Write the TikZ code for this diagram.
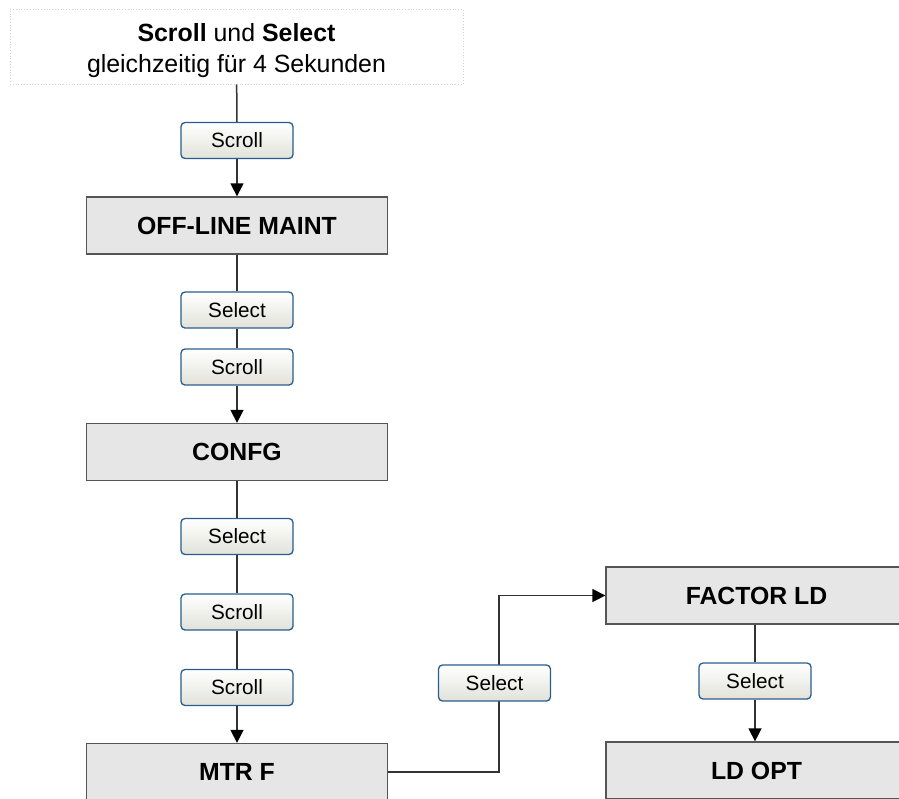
\documentclass[tikz,border=0pt]{standalone}
\usepackage{fontspec}
\setmainfont{Liberation Sans}
\usetikzlibrary{arrows.meta,backgrounds}
\definecolor{boxfill}{HTML}{E6E6E6}
\definecolor{boxline}{HTML}{555555}
\definecolor{btnline}{HTML}{2A5D8F}
\definecolor{btnbot}{HTML}{E2E2DA}
\definecolor{conn}{HTML}{333333}
\begin{document}
\begin{tikzpicture}[x=1pt,y=-1pt,
  mainbox/.style={draw=boxline,line width=1.3pt,fill=boxfill,minimum width=301pt,minimum height=57pt,inner sep=0pt,font=\fontsize{24.8}{30}\selectfont\bfseries},
  btn/.style={draw=btnline,line width=1.3pt,rounded corners=4pt,top color=white,bottom color=btnbot,minimum width=112pt,minimum height=36pt,inner sep=0pt,font=\fontsize{20.7}{25}\selectfont},
  conn/.style={draw=conn,line width=1.5pt},
  arr/.style={conn,-{Triangle[length=13pt,width=13pt,color=black]}}]
\useasboundingbox (0,0) rectangle (899,798);
\clip (0,0) rectangle (899,798);
\node[draw=gray!35,dotted,line width=0.8pt,minimum width=453pt,minimum height=75pt,inner sep=0pt,align=center,font=\fontsize{24.9}{31}\selectfont] (start) at (236.5,46.5) {\rule{0pt}{26pt}\textbf{Scroll} und \textbf{Select}\\gleichzeitig für 4 Sekunden};
\node[btn] (b1) at (237,140.5) {Scroll};
\node[mainbox] (offline) at (237,225.5) {OFF-LINE MAINT};
\node[btn] (b2) at (237,310) {Select};
\node[btn] (b3) at (237,367) {Scroll};
\node[mainbox] (confg) at (237,452) {CONFG};
\node[btn] (b4) at (237,536.5) {Select};
\node[btn] (b5) at (237,612) {Scroll};
\node[btn] (b6) at (237,687.5) {Scroll};
\node[mainbox] (mtrf) at (237,772) {MTR F};
\node[mainbox] (factor) at (756.5,595.5) {FACTOR LD};
\node[btn] (b8) at (755,681) {Select};
\node[mainbox] (ldopt) at (756.5,770.5) {LD OPT};
\node[btn] (b7) at (494.5,683) {Select};
\coordinate (elb) at (499,683);
\begin{scope}[on background layer]
\draw[conn] (start) -- (b1);
\draw[arr] (b1) -- (offline);
\draw[conn] (offline) -- (b2);
\draw[conn] (b2) -- (b3);
\draw[arr] (b3) -- (confg);
\draw[conn] (confg) -- (b4);
\draw[conn] (b4) -- (b5);
\draw[conn] (b5) -- (b6);
\draw[arr] (b6) -- (mtrf);
\draw[arr] (mtrf.east) -| (elb) |- (factor.west);
\draw[conn] (factor.south -| b8) -- (b8);
\draw[arr] (b8) -- (b8 |- ldopt.north);
\end{scope}
\end{tikzpicture}
\end{document}
